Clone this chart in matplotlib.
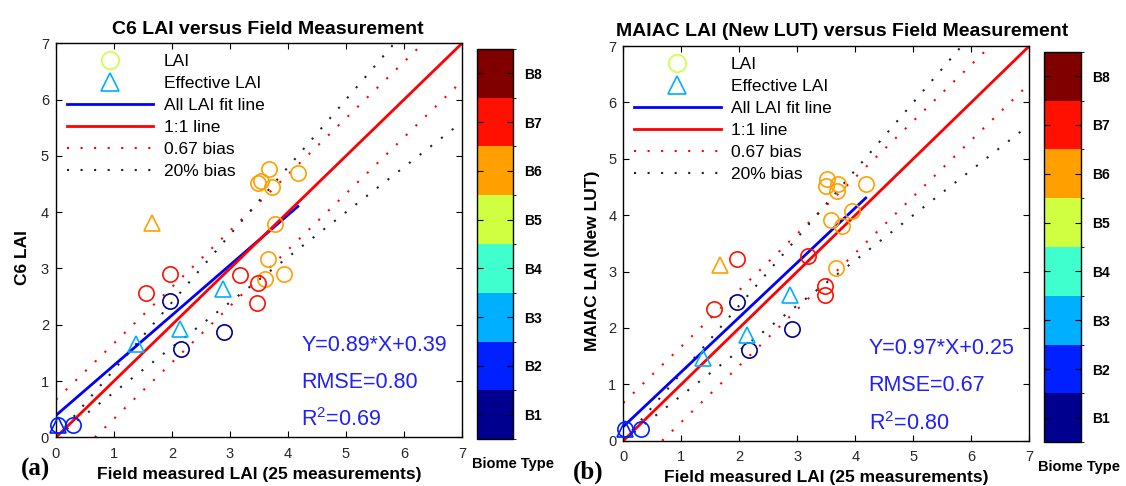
import numpy as np
import matplotlib
matplotlib.use("Agg")
import matplotlib.pyplot as plt
from matplotlib.colors import ListedColormap, BoundaryNorm
from matplotlib.cm import ScalarMappable
from matplotlib.lines import Line2D

plt.rcParams['font.family'] = ['Liberation Sans', 'DejaVu Sans']
plt.rcParams['mathtext.default'] = 'regular'

# ---------------- data ----------------
biome_labels = ['B1', 'B2', 'B3', 'B4', 'B5', 'B6', 'B7', 'B8']
biome_colors = [(0, 0, 0.5625), (0, 0.125, 1), (0, 0.6875, 1), (0.25, 1, 0.8125),
                (0.8125, 1, 0.25), (1, 0.625, 0), (1, 0.0625, 0), (0.5, 0, 0)]

# Panel (a): C6 LAI
c6_circle_field = [3.67, 4.17, 3.49, 3.53, 3.72, 3.77, 3.66, 3.60, 3.93,
                   1.96, 1.56, 3.17, 3.48, 3.47, 1.96, 2.90, 2.16, 0.30, 0.03]
c6_circle_lai = [4.77, 4.69, 4.51, 4.55, 4.44, 3.79, 3.17, 2.82, 2.90,
                 2.91, 2.57, 2.88, 2.75, 2.38, 2.42, 1.87, 1.56, 0.21, 0.21]
c6_circle_biome = [6, 6, 6, 6, 6, 6, 6, 6, 6, 7, 7, 7, 7, 7, 1, 1, 1, 2, 2]
c6_tri_field = [1.66, 2.88, 2.14, 1.38, 0.03]
c6_tri_lai = [3.81, 2.64, 1.93, 1.65, 0.21]
c6_tri_biome = [6, 3, 3, 3, 2]
c6_fit = (0.89, 0.39)
c6_stats = ['Y=0.89*X+0.39', 'RMSE=0.80', 'R$^{2}$=0.69']

# Panel (b): MAIAC LAI (New LUT)
maiac_circle_field = [3.52, 3.49, 3.71, 3.68, 4.18, 3.94, 3.58, 3.77, 3.66,
                      1.96, 1.57, 3.18, 3.48, 3.48, 1.96, 2.90, 2.16, 0.30, 0.03]
maiac_circle_lai = [4.64, 4.52, 4.55, 4.42, 4.55, 4.07, 3.92, 3.80, 3.07,
                    3.22, 2.33, 3.27, 2.74, 2.59, 2.46, 1.98, 1.60, 0.20, 0.21]
maiac_circle_biome = [6, 6, 6, 6, 6, 6, 6, 6, 6, 7, 7, 7, 7, 7, 1, 1, 1, 2, 2]
maiac_tri_field = [1.67, 2.88, 2.14, 1.37, 0.03]
maiac_tri_lai = [3.11, 2.59, 1.88, 1.47, 0.20]
maiac_tri_biome = [6, 3, 3, 3, 2]
maiac_fit = (0.97, 0.25)
maiac_stats = ['Y=0.97*X+0.25', 'RMSE=0.67', 'R$^{2}$=0.80']

axis_max = 7
bias_abs = 0.67
bias_rel = 0.20

W, H = 1126, 486
fig = plt.figure(figsize=(W / 100, H / 100), dpi=100)

DOT = (0, (1.0, 5.5))
DOT_LW = 1.5


def px_rect(x0, y0, x1, y1):
    return [x0 / W, 1 - y1 / H, (x1 - x0) / W, (y1 - y0) / H]


cmap = ListedColormap(biome_colors)
norm = BoundaryNorm(np.arange(0.5, 9.5, 1), cmap.N)


def panel(ax_rect, cb_rect, title, title_x, ylabel, ylab_x, cf, cl, cb_, tf, tl, tb,
          fit, stats, letter, letter_xy, biome_xy):
    ax = fig.add_axes(ax_rect)
    xs = np.array([0, axis_max])
    # bias lines
    ax.plot(xs, xs + bias_abs, color='red', lw=DOT_LW, ls=DOT)
    ax.plot(xs, xs - bias_abs, color='red', lw=DOT_LW, ls=DOT)
    ax.plot(xs, xs * (1 + bias_rel), color='#222222', lw=DOT_LW, ls=DOT)
    ax.plot(xs, xs * (1 - bias_rel), color='#222222', lw=DOT_LW, ls=DOT)
    # points
    for x, y, b in zip(cf, cl, cb_):
        ax.plot(x, y, 'o', ms=11, mfc='none', mec=biome_colors[b - 1], mew=1.2,
                clip_on=False, zorder=3)
    for x, y, b in zip(tf, tl, tb):
        ax.plot(x, y, '^', ms=12, mfc='none', mec=biome_colors[b - 1], mew=1.2,
                clip_on=False, zorder=3)
    # fit and 1:1
    xmax = max(max(cf), max(tf))
    fx = np.array([0, xmax])
    ax.plot(fx, fit[0] * fx + fit[1], color='blue', lw=2)
    ax.plot(xs, xs, color='red', lw=2)

    ax.set_xlim(0, axis_max)
    ax.set_ylim(0, axis_max)
    ax.set_xticks(range(0, axis_max + 1))
    ax.set_yticks(range(0, axis_max + 1))
    ax.tick_params(direction='in', top=True, right=True, length=4, width=0.8,
                   labelsize=10.5, labelcolor='#262626')
    ax.tick_params(axis='x', pad=7)
    ax.tick_params(axis='y', pad=5)
    for s in ax.spines.values():
        s.set_linewidth(1.0)
    ax.set_title(title, fontsize=14, fontweight='bold', x=title_x, pad=7)
    ax.set_xlabel('Field measured LAI (25 measurements)', fontsize=12.5, fontweight='bold')
    ax.xaxis.set_label_coords(0.5, -0.075)
    ax.set_ylabel(ylabel, fontsize=12.5, fontweight='bold')
    ax.yaxis.set_label_coords(ylab_x, 0.455)

    handles = [
        Line2D([], [], ls='none', marker='o', ms=12.5, mfc='none', mec=biome_colors[4], mew=1.2),
        Line2D([], [], ls='none', marker='^', ms=13, mfc='none', mec=biome_colors[2], mew=1.2),
        Line2D([], [], color='blue', lw=2),
        Line2D([], [], color='red', lw=2),
        Line2D([], [], color='red', lw=DOT_LW, ls=DOT),
        Line2D([], [], color='#222222', lw=DOT_LW, ls=DOT),
    ]
    labels = ['LAI', 'Effective LAI', 'All LAI fit line', '1:1 line', '0.67 bias', '20% bias']
    ax.legend(handles, labels, loc='upper left', bbox_to_anchor=(0.026, 0.972),
              frameon=False, fontsize=12.5, handlelength=5.0, handletextpad=0.6,
              labelspacing=0.39, borderpad=0, borderaxespad=0)

    for i, s in enumerate(stats):
        ax.text(4.23, [1.63, 0.98, 0.31][i], s, color='#1f1fff', fontsize=15.5,
                ha='left', va='center')

    cax = fig.add_axes(cb_rect)
    cb = fig.colorbar(ScalarMappable(norm=norm, cmap=cmap), cax=cax, ticks=range(1, 9))
    cb.ax.set_yticklabels(biome_labels, fontsize=10, fontweight='bold')
    cb.ax.tick_params(direction='in', left=True, right=True, length=4, width=0.8, pad=8)
    cb.outline.set_linewidth(1.0)
    fig.text(biome_xy[0] / W, 1 - biome_xy[1] / H, 'Biome Type', fontsize=10.5,
             fontweight='bold', ha='center', va='center')
    fig.text(letter_xy[0] / W, 1 - letter_xy[1] / H, letter, fontsize=18,
             fontweight='bold', family='Liberation Serif', ha='center', va='center')
    return ax


panel(px_rect(56, 43.3, 462, 437.3), px_rect(476.7, 49, 513.3, 439),
      'C6 LAI versus Field Measurement', 0.522, 'C6 LAI', -0.064,
      c6_circle_field, c6_circle_lai, c6_circle_biome,
      c6_tri_field, c6_tri_lai, c6_tri_biome, c6_fit, c6_stats,
      '(a)', (36, 469), (512.5, 464))

panel(px_rect(623.3, 46, 1029.3, 440.7), px_rect(1044, 51.7, 1081, 442.3),
      'MAIAC LAI (New LUT) versus Field Measurement', 0.539, 'MAIAC LAI (New LUT)', -0.057,
      maiac_circle_field, maiac_circle_lai, maiac_circle_biome,
      maiac_tri_field, maiac_tri_lai, maiac_tri_biome, maiac_fit, maiac_stats,
      '(b)', (588, 472), (1079.5, 467))

fig.savefig('out.png', dpi=100)
